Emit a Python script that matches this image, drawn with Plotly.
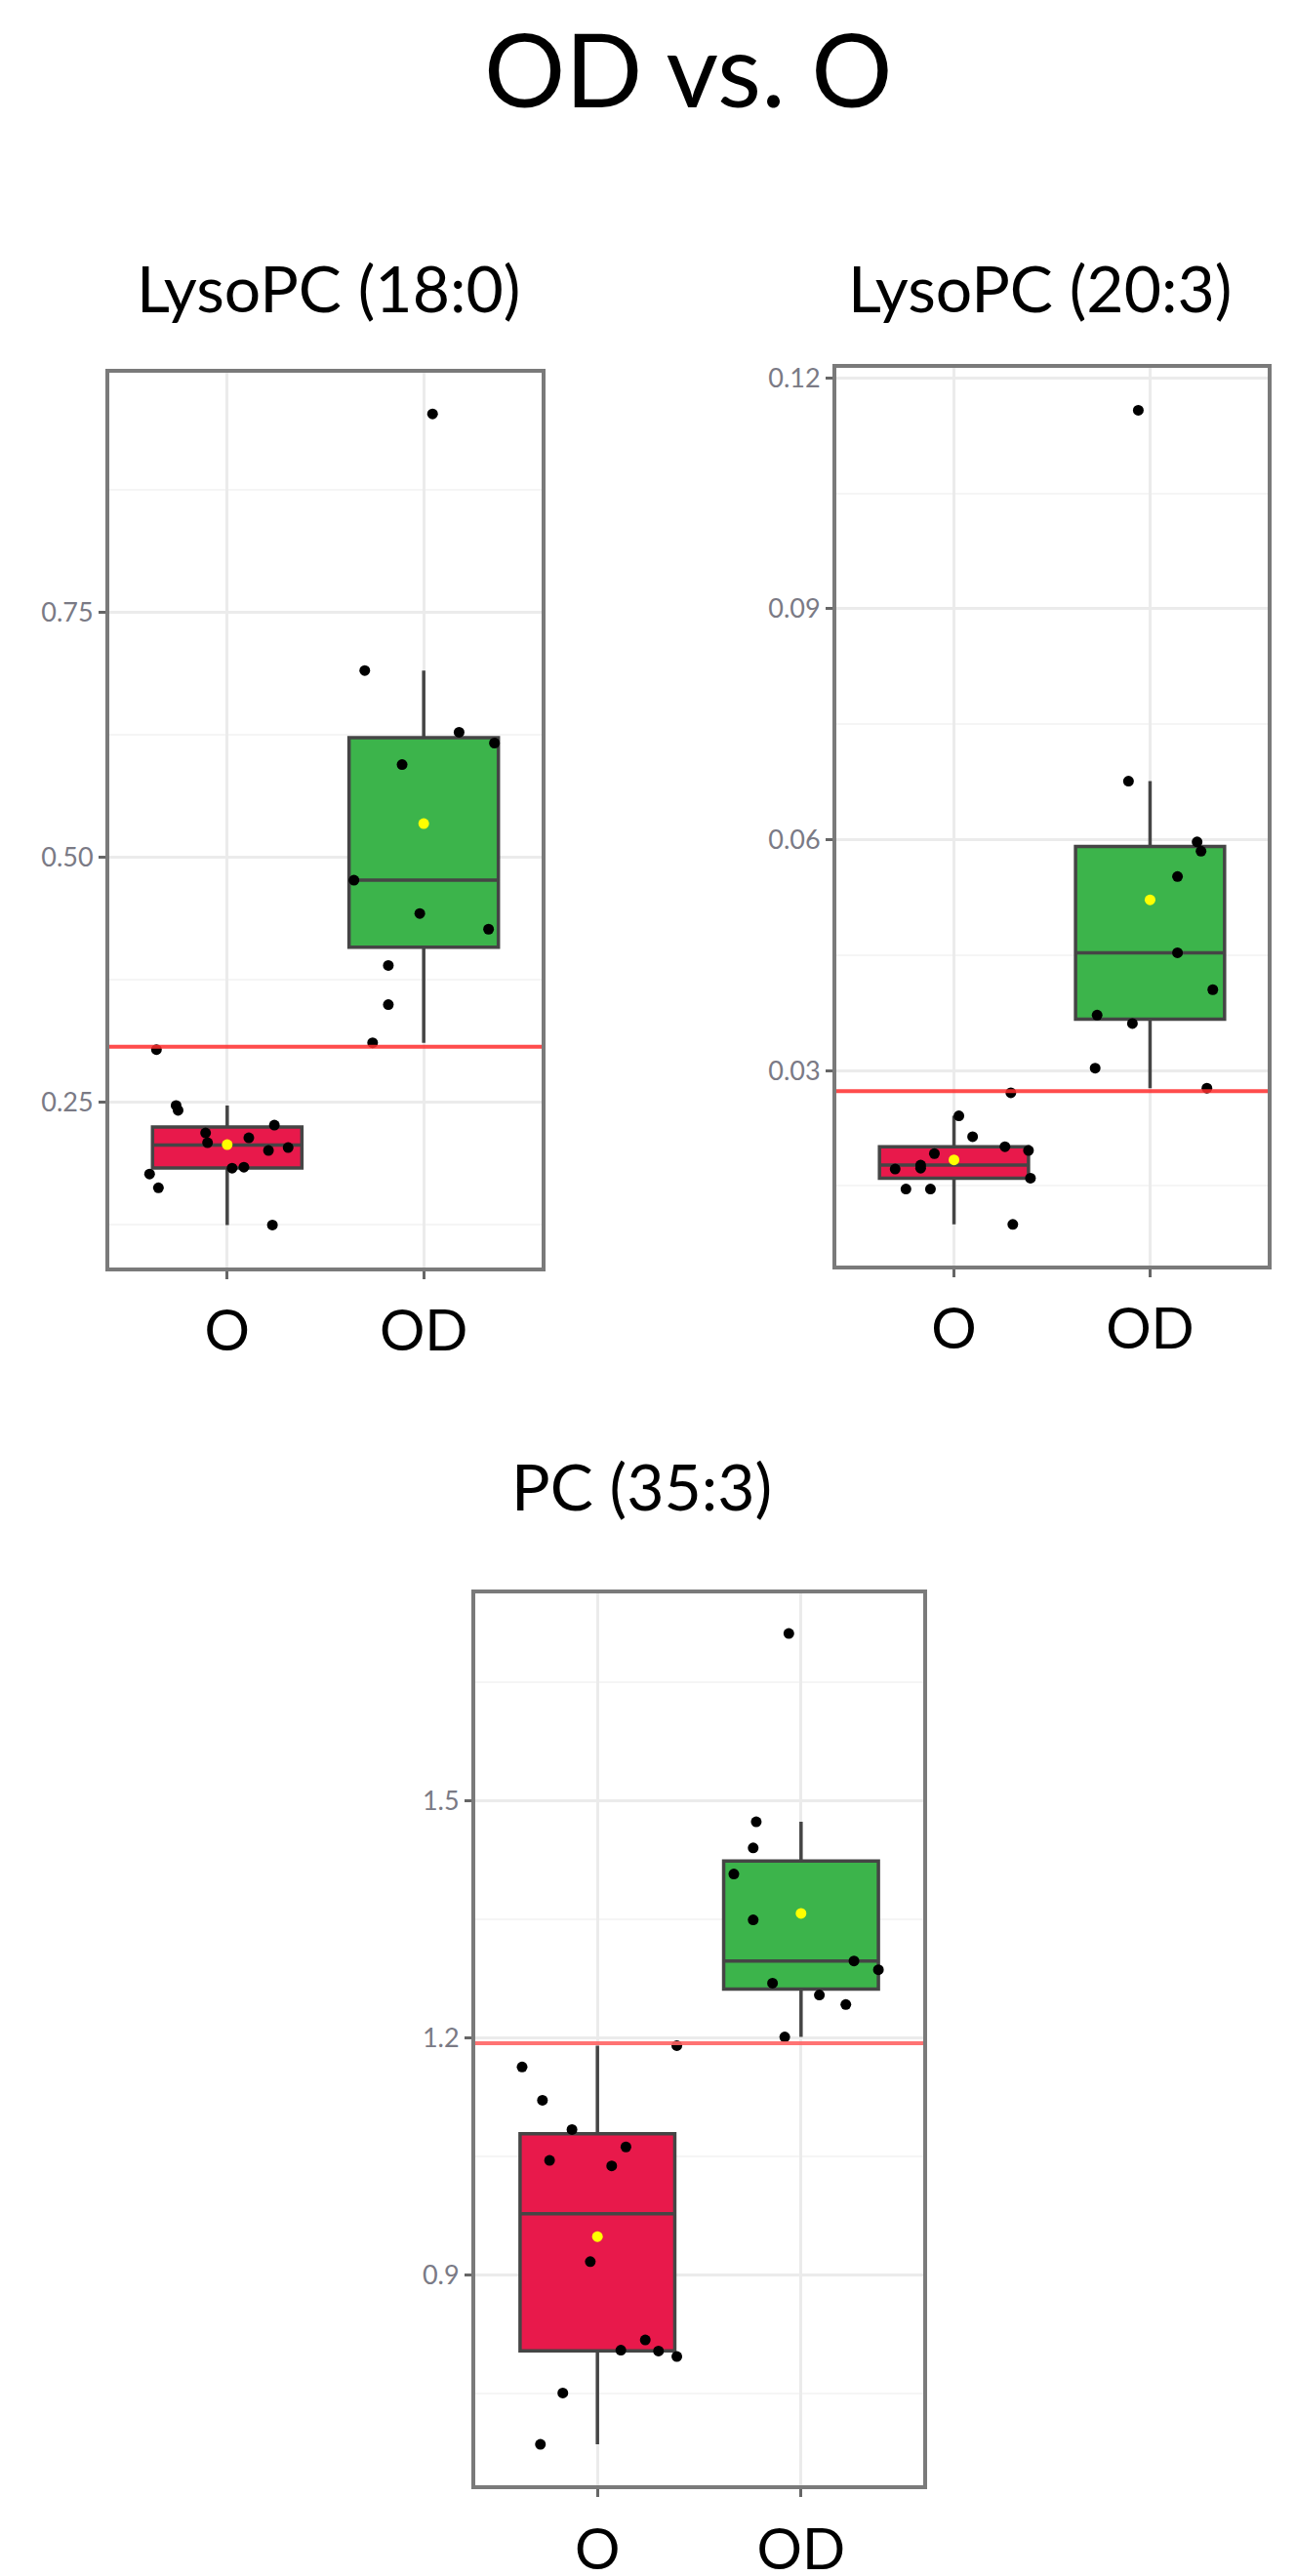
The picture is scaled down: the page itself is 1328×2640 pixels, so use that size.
import numpy as np
import plotly.graph_objects as go

# values
groups = ["O", "OD"]
titles = ["LysoPC (18:0)", "LysoPC (20:3)", "PC (35:3)"]

lyso18_o = [0.304, 0.247, 0.242, 0.227, 0.219, 0.209, 0.214, 0.204, 0.201, 0.184, 0.183, 0.177, 0.163, 0.125]
lyso18_o_jit = [-0.36, -0.26, -0.25, 0.24, -0.11, -0.10, 0.11, 0.31, 0.21, 0.085, 0.025, -0.395, -0.35, 0.23]
lyso18_od = [0.953, 0.691, 0.628, 0.617, 0.595, 0.477, 0.443, 0.427, 0.390, 0.350, 0.311]
lyso18_od_jit = [0.045, -0.30, 0.18, 0.36, -0.11, -0.355, -0.02, 0.33, -0.18, -0.18, -0.26]

lyso20_o = [0.0271, 0.0241, 0.0214, 0.0201, 0.0196, 0.0192, 0.0173, 0.0172, 0.0160, 0.0146, 0.0146, 0.0100, 0.0177]
lyso20_o_jit = [0.29, 0.025, 0.095, 0.26, 0.38, -0.10, -0.17, -0.30, 0.39, -0.245, -0.12, 0.30, -0.17]
lyso20_od = [0.1158, 0.0676, 0.0597, 0.0585, 0.0552, 0.0453, 0.0405, 0.0372, 0.0361, 0.0303, 0.0277]
lyso20_od_jit = [-0.06, -0.11, 0.24, 0.26, 0.14, 0.14, 0.32, -0.27, -0.09, -0.28, 0.29]

pc_o = [1.190, 1.163, 1.121, 1.084, 1.062, 1.045, 1.038, 0.917, 0.818, 0.805, 0.804, 0.797, 0.751, 0.686]
pc_o_jit = [0.39, -0.37, -0.27, -0.125, 0.14, -0.235, 0.07, -0.035, 0.235, 0.115, 0.30, 0.39, -0.17, -0.28]
pc_od = [1.711, 1.473, 1.440, 1.407, 1.349, 1.297, 1.286, 1.269, 1.254, 1.242, 1.201]
pc_od_jit = [-0.06, -0.22, -0.235, -0.33, -0.235, 0.26, 0.38, -0.14, 0.09, 0.22, -0.08]

cutoffs = [0.307, 0.0273, 1.193]

W, H = 1328, 2640
FONT = "Lato"
box_colors = ["#E8194B", "#3CB44B"]
cut_colors = ["rgba(255,45,45,0.85)", "rgba(255,45,45,0.85)", "rgba(255,100,100,0.9)"]

panels = [
    dict(o=lyso18_o, oj=lyso18_o_jit, od=lyso18_od, odj=lyso18_od_jit,
         xdom=[104, 547], ydom=[368, 1287], yr=[0.082, 0.995], dt=0.25, fmt=".2f",
         tx=328, ty=280),
    dict(o=lyso20_o, oj=lyso20_o_jit, od=lyso20_od, odj=lyso20_od_jit,
         xdom=[849, 1291], ydom=[363, 1285], yr=[0.0047, 0.1213], dt=0.03, fmt=".2f",
         tx=1057, ty=280),
    dict(o=pc_o, oj=pc_o_jit, od=pc_od, odj=pc_od_jit,
         xdom=[479, 938], ydom=[1622, 2539], yr=[0.634, 1.762], dt=0.3, fmt=".1f",
         tx=649, ty=1512),
]


def box_stats(vals):
    # ggplot-style box: type-7 quartiles, whiskers to last point within 1.5 IQR
    v = np.asarray(vals)
    q1, med, q3 = np.percentile(v, [25, 50, 75])
    iqr = q3 - q1
    lo = v[v >= q1 - 1.5 * iqr].min()
    hi = v[v <= q3 + 1.5 * iqr].max()
    return q1, med, q3, lo, hi


fig = go.Figure()
layout = {}
annotations = [dict(text="OD vs. O", x=697 / W, y=1 - 55 / H, xref="paper", yref="paper",
                    xanchor="center", yanchor="middle", showarrow=False,
                    font=dict(family=FONT, size=104, color="black"))]
shapes = []

for i, p in enumerate(panels):
    n = "" if i == 0 else str(i + 1)
    xa, ya = "x" + n, "y" + n
    for k, (vals, jit) in enumerate([(p["o"], p["oj"]), (p["od"], p["odj"])]):
        pos = k + 1
        q1, med, q3, lo, hi = box_stats(vals)
        fig.add_trace(go.Box(
            x=[pos], q1=[q1], median=[med], q3=[q3], lowerfence=[lo], upperfence=[hi],
            xaxis=xa, yaxis=ya, width=0.76, fillcolor=box_colors[k],
            line=dict(color="#454545", width=3.5), whiskerwidth=0,
            hoverinfo="skip", showlegend=False))
        fig.add_trace(go.Scatter(
            x=[pos + j for j in jit], y=vals, xaxis=xa, yaxis=ya, mode="markers",
            marker=dict(color="black", size=11), showlegend=False))
        fig.add_trace(go.Scatter(
            x=[pos], y=[float(np.mean(vals))], xaxis=xa, yaxis=ya, mode="markers",
            marker=dict(color="#FFFF00", size=11), showlegend=False))
    shapes.append(dict(type="line", xref=xa + " domain", yref=ya, x0=0, x1=1,
                       y0=cutoffs[i], y1=cutoffs[i], line=dict(color=cut_colors[i], width=4)))
    annotations.append(dict(text=titles[i], x=p["tx"] / W, y=1 - p["ty"] / H,
                            xref="paper", yref="paper", xanchor="center", yanchor="middle",
                            showarrow=False, font=dict(family=FONT, size=66, color="black")))
    key = "" if i == 0 else str(i + 1)
    layout["xaxis" + key] = dict(
        domain=[p["xdom"][0] / W, p["xdom"][1] / W], anchor=ya, range=[0.4, 2.6],
        tickvals=[1, 2], ticktext=groups, showgrid=True, gridcolor="#EBEBEB", gridwidth=2.5,
        zeroline=False, showline=True, mirror=True, linecolor="#7a7a7a", linewidth=4,
        ticks="outside", ticklen=8, tickwidth=2.5, tickcolor="#666666", ticklabelstandoff=4,
        tickfont=dict(family=FONT, size=58, color="black"))
    layout["yaxis" + key] = dict(
        domain=[1 - p["ydom"][1] / H, 1 - p["ydom"][0] / H], anchor=xa, range=p["yr"],
        tick0=0, dtick=p["dt"], tickformat=p["fmt"], showgrid=True, gridcolor="#EBEBEB",
        gridwidth=2.5, zeroline=False, showline=True, mirror=True, linecolor="#7a7a7a",
        linewidth=4, ticks="outside", ticklen=7, tickwidth=2.5, tickcolor="#666666",
        tickfont=dict(family=FONT, size=27, color="#7a7a85"),
        minor=dict(dtick=p["dt"] / 2, tick0=0, showgrid=True, gridcolor="#F5F5F5",
                   gridwidth=2, ticks=""))

fig.update_layout(width=W, height=H, margin=dict(l=0, r=0, t=0, b=0),
                  paper_bgcolor="white", plot_bgcolor="white", showlegend=False,
                  annotations=annotations, shapes=shapes, **layout)
fig.write_html("out.html")
